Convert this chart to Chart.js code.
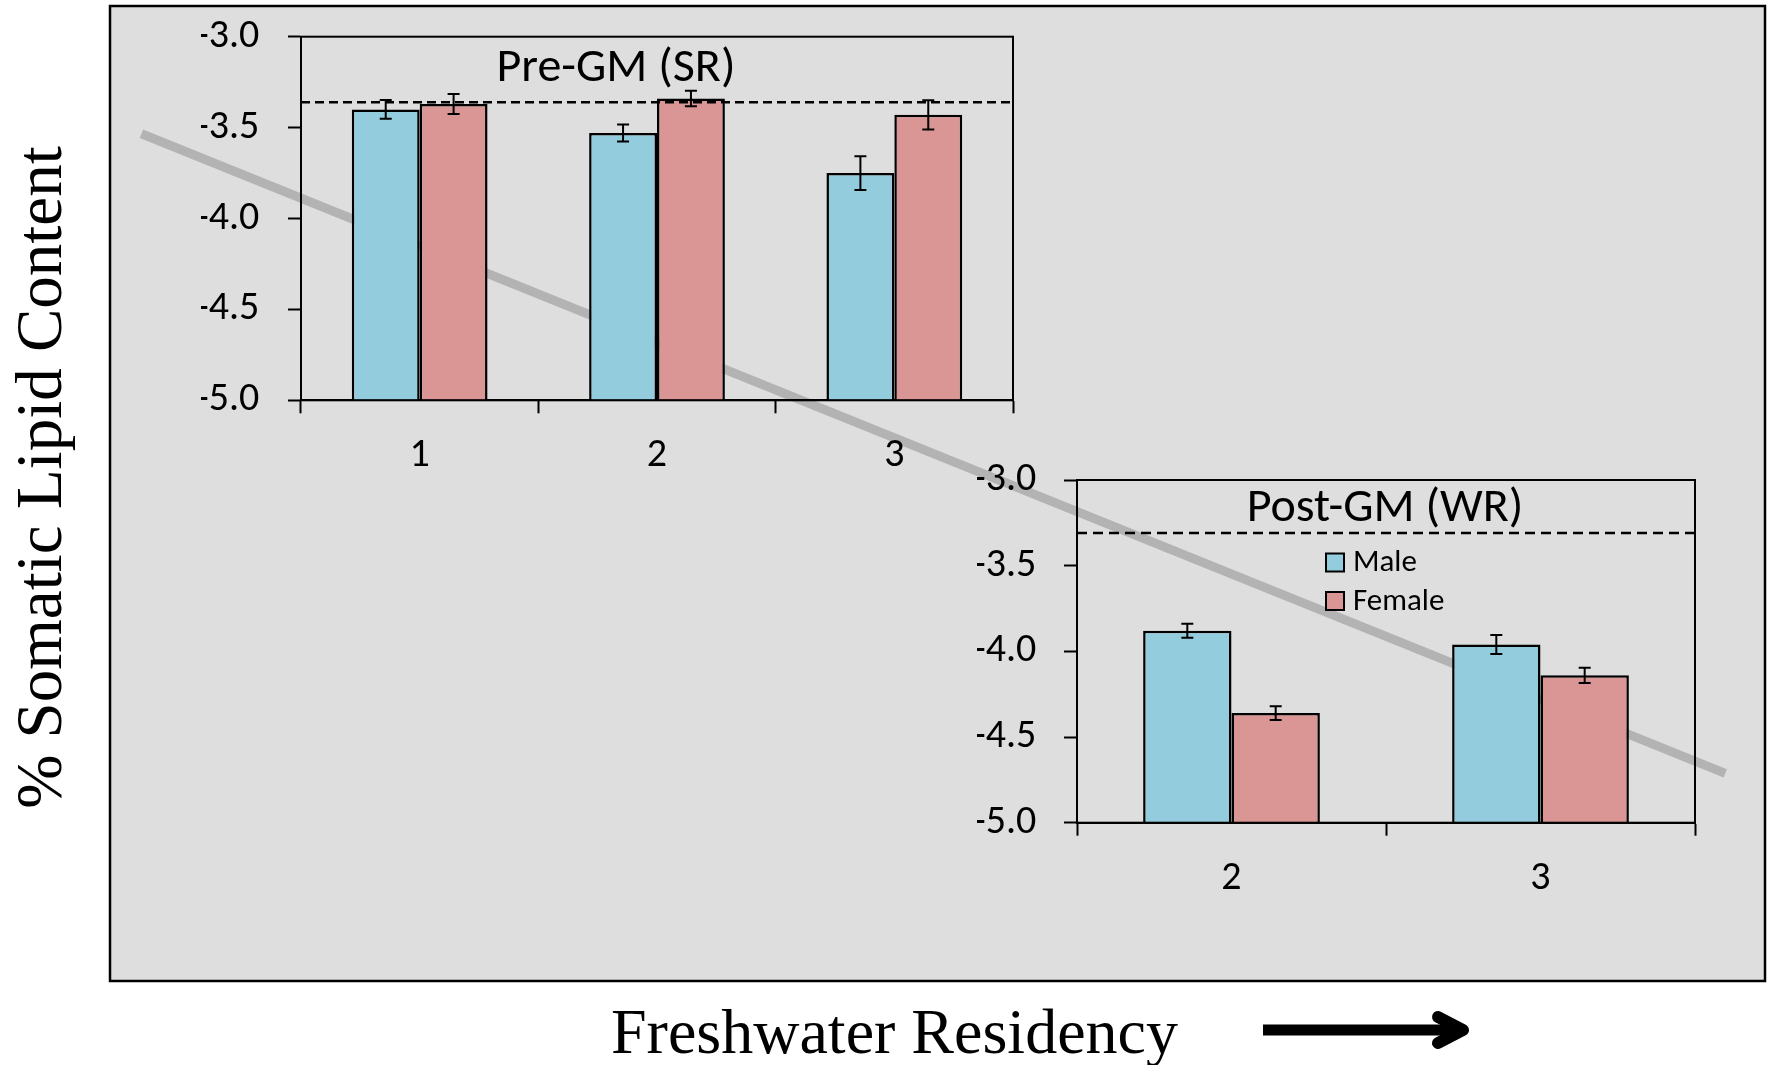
<!DOCTYPE html>
<html><head><meta charset="utf-8">
<script src="https://cdn.jsdelivr.net/npm/chart.js@4.4.1/dist/chart.umd.min.js"></script>
<style>
html,body{margin:0;padding:0;background:#fff;}
#wrap{position:relative;width:1771px;height:1065px;}
#wrap canvas{position:absolute;left:0;top:0;}
</style></head><body>
<div id="wrap">
<canvas id="bg" width="1771" height="1065"></canvas>
<canvas id="pre" width="1771" height="1065"></canvas>
<canvas id="post" width="1771" height="1065"></canvas>
</div>
<script>
// ---------- data ----------
const lipidMin = -5.0;
const lipidMax = -3.0;
const lipidStep = 0.5;

const preCategories = ['1', '2', '3'];
const preMale = [-3.40, -3.53, -3.75];
const preFemale = [-3.37, -3.34, -3.43];
const preMaleErr = [0.052, 0.047, 0.093];
const preFemaleErr = [0.055, 0.043, 0.080];
const preReference = -3.36;

const postCategories = ['2', '3'];
const postMale = [-3.88, -3.96];
const postFemale = [-4.36, -4.14];
const postMaleErr = [0.041, 0.055];
const postFemaleErr = [0.040, 0.045];
const postReference = -3.31;

const seriesNames = ['Male', 'Female'];
const panelTitles = ['Pre-GM (SR)', 'Post-GM (WR)'];

// schematic trend (relative units, 0..1 on both outer axes)
const trendResidency = [0.019, 0.976];
const trendLipid = [0.869, 0.213];

const outerYTitle = '% Somatic Lipid Content';
const outerXTitle = 'Freshwater Residency';

// ---------- styles ----------
const MALE_COLOR = '#93CDDD';
const FEMALE_COLOR = '#DA9694';
const PANEL_BG = '#dedede';
const SERIF = "'Liberation Serif', 'DejaVu Serif', 'Times New Roman', serif";

function fontAvailable(name) {
  const c = document.createElement('canvas').getContext('2d');
  const s = 'Pre-GM (SR) -3.0 Female 0123456789';
  c.font = '72px monospace';
  const w1 = c.measureText(s).width;
  c.font = "72px '" + name + "', monospace";
  const w2 = c.measureText(s).width;
  return Math.abs(w1 - w2) > 0.5;
}
const HAS_CARLITO = fontAvailable('Carlito');
const F = HAS_CARLITO
  ? {family: "Carlito, Lato, sans-serif", title: 48, yTick: 40, xTick: 40, legend: 31}
  : {family: "Lato, 'Open Sans', sans-serif", title: 43.5, yTick: 37, xTick: 37, legend: 28.5};

// ---------- outer (background) chart ----------
const outerDecor = {
  id: 'outerDecor',
  beforeDraw(chart) {
    const {ctx, chartArea: a} = chart;
    ctx.save();
    ctx.fillStyle = PANEL_BG;
    ctx.fillRect(a.left, a.top, a.right - a.left, a.bottom - a.top);
    ctx.restore();
  },
  afterDraw(chart) {
    const {ctx, chartArea: a} = chart;
    ctx.save();
    ctx.strokeStyle = '#000';
    ctx.lineWidth = 2.5;
    ctx.strokeRect(a.left, a.top, a.right - a.left, a.bottom - a.top);
    // y title
    ctx.fillStyle = '#000';
    ctx.font = '65px ' + SERIF;
    ctx.textAlign = 'center';
    ctx.textBaseline = 'alphabetic';
    ctx.save();
    ctx.translate(61, 477.5);
    ctx.rotate(-Math.PI / 2);
    ctx.fillText(outerYTitle, 0, 0);
    ctx.restore();
    // x title
    ctx.font = '64px ' + SERIF;
    ctx.textAlign = 'left';
    ctx.fillText(outerXTitle, 611, 1053);
    // arrow
    ctx.lineWidth = 11;
    ctx.lineCap = 'butt';
    ctx.beginPath();
    ctx.moveTo(1263, 1030);
    ctx.lineTo(1458, 1030);
    ctx.stroke();
    ctx.lineWidth = 12;
    ctx.lineCap = 'round';
    ctx.lineJoin = 'round';
    ctx.beginPath();
    ctx.moveTo(1438, 1017);
    ctx.lineTo(1463, 1030);
    ctx.lineTo(1438, 1043);
    ctx.stroke();
    ctx.restore();
  }
};

new Chart(document.getElementById('bg'), {
  type: 'line',
  data: {
    datasets: [{
      label: 'Trend',
      data: trendResidency.map((x, i) => ({x: x, y: trendLipid[i]})),
      borderColor: '#b3b3b3',
      borderWidth: 9,
      borderCapStyle: 'butt',
      pointRadius: 0,
      fill: false
    }]
  },
  options: {
    responsive: false,
    animation: false,
    layout: {padding: {left: 110, top: 6, right: 6, bottom: 84}},
    plugins: {legend: {display: false}, tooltip: {enabled: false}},
    scales: {
      x: {type: 'linear', min: 0, max: 1, display: false},
      y: {type: 'linear', min: 0, max: 1, display: false}
    }
  },
  plugins: [outerDecor]
});

// ---------- inset charts ----------
function insetDecor(cfg) {
  return {
    id: 'insetDecor',
    afterDatasetsDraw(chart) {
      const ctx = chart.ctx, ys = chart.scales.y, a = chart.chartArea;
      ctx.save();
      ctx.strokeStyle = '#000';
      ctx.lineWidth = 2;
      chart.data.datasets.forEach((ds, di) => {
        const meta = chart.getDatasetMeta(di);
        meta.data.forEach((bar, j) => {
          const v = ds.data[j], e = cfg.errors[di][j];
          const yTop = ys.getPixelForValue(v + e), yBot = ys.getPixelForValue(v - e);
          ctx.beginPath();
          ctx.moveTo(bar.x, yTop); ctx.lineTo(bar.x, yBot);
          ctx.moveTo(bar.x - cfg.cap, yTop); ctx.lineTo(bar.x + cfg.cap, yTop);
          ctx.moveTo(bar.x - cfg.cap, yBot); ctx.lineTo(bar.x + cfg.cap, yBot);
          ctx.stroke();
        });
      });
      // reference line
      const yr = ys.getPixelForValue(cfg.ref);
      ctx.lineWidth = 2.5;
      ctx.setLineDash(cfg.dash);
      ctx.beginPath();
      ctx.moveTo(a.left, yr); ctx.lineTo(a.right, yr);
      ctx.stroke();
      ctx.setLineDash([]);
      // frame
      ctx.lineWidth = 2;
      ctx.strokeRect(a.left, a.top, a.right - a.left, a.bottom - a.top);
      // title
      ctx.fillStyle = '#000';
      ctx.font = F.title + 'px ' + F.family;
      ctx.textAlign = 'center';
      ctx.textBaseline = 'alphabetic';
      ctx.fillText(cfg.title, cfg.titleX, cfg.titleY);
      // legend
      if (cfg.legend) {
        const L = cfg.legend;
        ctx.font = F.legend + 'px ' + F.family;
        ctx.textAlign = 'left';
        ctx.textBaseline = 'middle';
        chart.data.datasets.forEach((ds, i) => {
          const cy = L.y + i * L.gap;
          ctx.fillStyle = ds.backgroundColor;
          ctx.fillRect(L.x, cy - L.box / 2, L.box, L.box);
          ctx.lineWidth = 2;
          ctx.strokeRect(L.x, cy - L.box / 2, L.box, L.box);
          ctx.fillStyle = '#000';
          ctx.fillText(ds.label, L.x + L.box + 9, cy + 1);
        });
      }
      ctx.restore();
    }
  };
}

function makeInset(id, labels, male, female, layout, yPad, xPad, decor) {
  new Chart(document.getElementById(id), {
    type: 'bar',
    data: {
      labels: labels,
      datasets: [
        {label: seriesNames[0], data: male, backgroundColor: MALE_COLOR, borderColor: '#000', borderWidth: 2.5,
         base: lipidMin, categoryPercentage: 0.572, barPercentage: 1.0},
        {label: seriesNames[1], data: female, backgroundColor: FEMALE_COLOR, borderColor: '#000', borderWidth: 2.5,
         base: lipidMin, categoryPercentage: 0.572, barPercentage: 1.0}
      ]
    },
    options: {
      responsive: false,
      animation: false,
      layout: {padding: layout.padding},
      plugins: {legend: {display: false}, tooltip: {enabled: false}},
      scales: {
        x: {
          type: 'category',
          offset: true,
          afterFit: s => { s.height = layout.xh; s.paddingLeft = 0; s.paddingRight = 0; },
          grid: {offset: true, drawOnChartArea: false, drawTicks: true, tickLength: 13, tickWidth: 2, tickColor: '#000'},
          border: {display: true, color: '#000', width: 2},
          ticks: {font: {family: F.family, size: F.xTick}, color: '#000', padding: xPad, maxRotation: 0}
        },
        y: {
          min: lipidMin, max: lipidMax,
          afterFit: s => { s.width = layout.yw; s.paddingTop = 0; s.paddingBottom = 0; },
          grid: {drawOnChartArea: false, drawTicks: true, tickLength: 13, tickWidth: 2, tickColor: '#000'},
          border: {display: true, color: '#000', width: 2},
          ticks: {stepSize: lipidStep, font: {family: F.family, size: F.yTick}, color: '#000', padding: yPad,
                  callback: v => Number(v).toFixed(1)}
        }
      }
    },
    plugins: [insetDecor(decor)]
  });
}

makeInset('pre', preCategories, preMale, preFemale,
  {padding: {left: 201, right: 758, top: 36.7, bottom: 564.7}, xh: 100, yw: 100},
  28.7, 19,
  {errors: [preMaleErr, preFemaleErr], cap: 6, ref: preReference, dash: [9, 5],
   title: panelTitles[0], titleX: 616, titleY: 81});

makeInset('post', postCategories, postMale, postFemale,
  {padding: {left: 977, right: 76, top: 480, bottom: 142.3}, xh: 100, yw: 100},
  27.7, 19,
  {errors: [postMaleErr, postFemaleErr], cap: 6, ref: postReference, dash: [10, 6],
   title: panelTitles[1], titleX: 1385, titleY: 521,
   legend: {x: 1326, y: 562.5, gap: 38.5, box: 18}});
</script>
</body></html>
